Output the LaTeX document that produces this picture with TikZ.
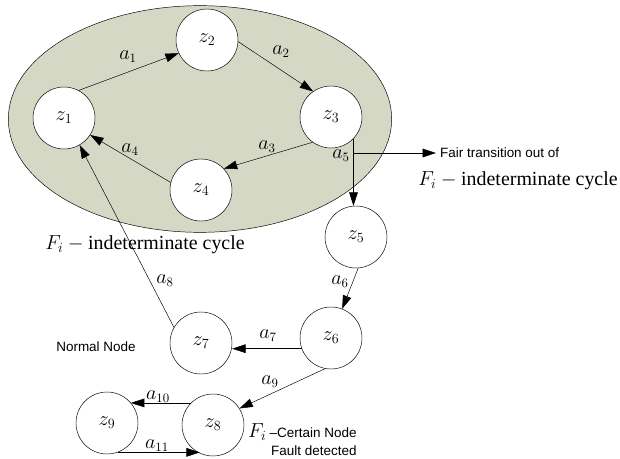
\documentclass[tikz,border=0pt]{standalone}
\usepackage{fontspec}
\setmainfont{Liberation Serif}
\setsansfont{Liberation Sans}
\usepackage{tikz}
\usetikzlibrary{arrows.meta, positioning, calc, shapes.geometric}
\definecolor{cyclefill}{RGB}{212,216,196}

\begin{document}
\begin{tikzpicture}[
    x=0.03cm, y=-0.03cm,
    state/.style={draw, circle, fill=white, minimum size=1.86cm, inner sep=0pt, font=\fontsize{17}{19}\selectfont},
    lbl/.style={font=\fontsize{16}{18}\selectfont, inner sep=1pt},
    note/.style={font=\sffamily\fontsize{11.5}{13}\selectfont},
    big/.style={font=\fontsize{17}{19}\selectfont},
    arrow/.style={-{Triangle[length=4mm, width=2.6mm]}, thin}
]
    \useasboundingbox (0,0) rectangle (620,459);

    % the cycle region
    \node[draw, ellipse, fill=cyclefill, minimum width=11.5cm, minimum height=6.8cm] (cyc) at (200,119) {};
    \node[big] (cyclbl) at (145,245) {$F_i - {}$indeterminate cycle};

    % states
    \node[state] (z1) at (64,118) {$z_1$};
    \node[state] (z2) at (207,40) {$z_2$};
    \node[state] (z3) at (331,117) {$z_3$};
    \node[state] (z4) at (201,190) {$z_4$};
    \node[state] (z5) at (356,237) {$z_5$};
    \node[state] (z6) at (331,338) {$z_6$};
    \node[state] (z7) at (201,343) {$z_7$};
    \node[state] (z8) at (213,425) {$z_8$};
    \node[state] (z9) at (107,423) {$z_9$};

    % transitions
    \draw[arrow] (z1.62) -- (z2.205);
    \draw[arrow] (z2.-3) -- (z3.125);
    \draw[arrow] (z3.234) -- (z4.43);
    \draw[arrow] (z4.166) -- (z1.-33);
    \draw[arrow] (z3.-44) -- (z3.-44 |- z5.north);
    \draw[arrow] (z5.-86) -- (z6.69);
    \draw[arrow] (z6.200) -- (z6.200 -| z7.east);
    \draw[arrow] (z7.150) -- (z1.-60);
    \draw[arrow] (z6.-101) -- (z8.32);
    \draw[arrow] (z8.135) -- (z8.135 -| z9.40);
    \draw[arrow] (z9.-70) -- (z9.-70 -| z8.-115);

    \node[lbl] (la1) at (128,57) {$a_1$};
    \node[lbl] (la2) at (281,52) {$a_2$};
    \node[lbl] (la3) at (267,147) {$a_3$};
    \node[lbl] (la4) at (130,150) {$a_4$};
    \node[lbl] (la5) at (341,156) {$a_5$};
    \node[lbl] (la6) at (340,282) {$a_6$};
    \node[lbl] (la7) at (268,336) {$a_7$};
    \node[lbl] (la8) at (165,281) {$a_8$};
    \node[lbl] (la9) at (270,382) {$a_9$};
    \node[lbl] (la10) at (158,397) {$a_{10}$};
    \node[lbl] (la11) at (157,446) {$a_{11}$};

    % fair transition out of the cycle
    \node[note, anchor=west] (fair) at (436,153) {Fair transition out of};
    \draw[arrow] (fair.west -| z3.-44) -- (fair.west);
    \node[big] (fairlbl) at (518,181) {$F_i - {}$indeterminate cycle};

    % node kinds
    \node[note] (normal) at (96,347) {Normal Node};
    \node[anchor=west, inner sep=0pt] (certain) at (248,432) {\fontsize{17}{19}\selectfont$F_i$\,\sffamily\fontsize{11.5}{13}\selectfont --Certain Node};
    \node[note, anchor=east, inner sep=0pt] (fault) at (certain.east |- 0,451) {Fault detected};
\end{tikzpicture}
\end{document}
